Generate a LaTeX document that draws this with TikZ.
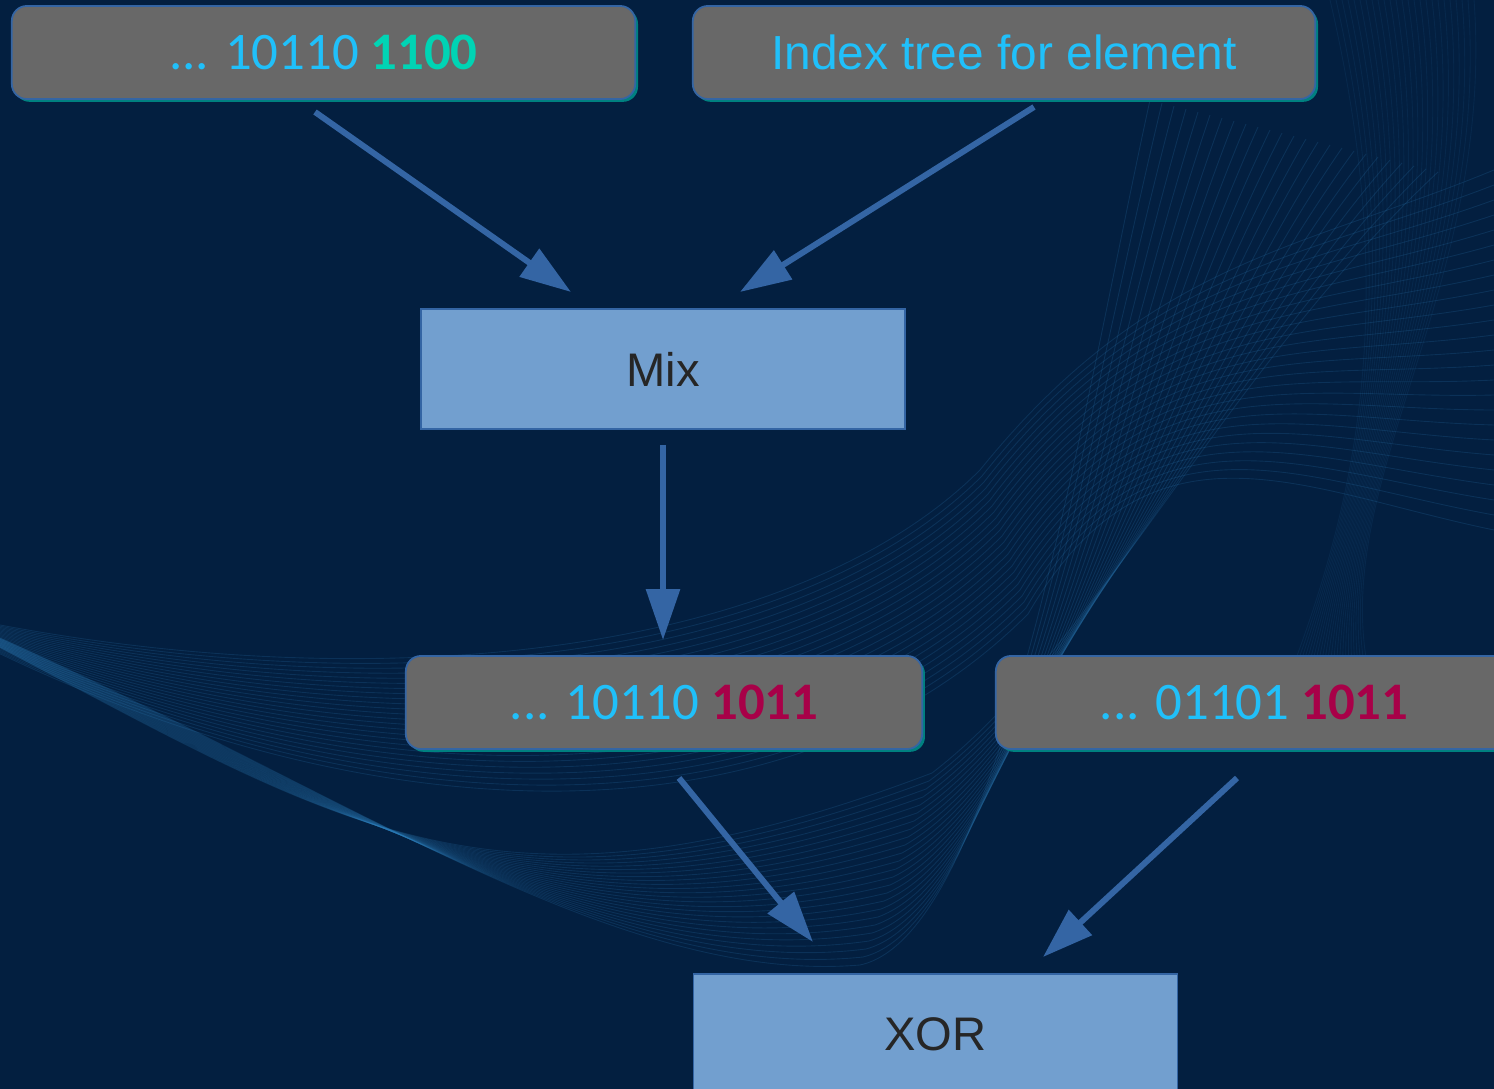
\documentclass[tikz,border=0pt]{standalone}
\usepackage{fontspec}
\setmainfont{Liberation Sans}
\newfontfamily\bitsfont{Carlito}
\usetikzlibrary{arrows.meta,positioning,shadows}

\definecolor{navy}{RGB}{3,31,64}
\definecolor{slate}{RGB}{104,104,104}
\definecolor{skyblue}{RGB}{32,192,250}
\definecolor{mint}{RGB}{0,212,180}
\definecolor{berry}{RGB}{168,0,72}
\definecolor{arrowblue}{RGB}{52,101,164}
\definecolor{opblue}{RGB}{114,159,207}
\definecolor{rimteal}{RGB}{0,128,128}
\definecolor{wave}{RGB}{45,125,185}

\tikzset{
  bits/.style={rounded corners=0.15cm, fill=slate, draw=arrowblue, line width=0.5pt,
    minimum height=0.93cm, text=skyblue, font=\bitsfont\fontsize{15}{18}\selectfont,
    drop shadow={shadow xshift=0.8pt, shadow yshift=-0.8pt, fill=rimteal, opacity=1}},
  op/.style={fill=opblue, draw=arrowblue, line width=0.4pt, minimum width=4.84cm,
    minimum height=1.2cm, text=black!85, font=\fontsize{13.4}{16}\selectfont},
  flow/.style={draw=arrowblue, line width=1.7pt, -{Triangle[length=14.5pt,width=9.4pt]}},
  strand/.style={draw=wave, line width=0.25pt, opacity=0.2},
}

\begin{document}
\begin{tikzpicture}[x=0.01cm, y=-0.01cm]
  \clip (0,0) rectangle (1494,1089);
  \fill[navy] (0,0) rectangle (1494,1089);

  % background strands
  \foreach \i in {0,...,24} {
    \draw[strand] (0,{638+\i*0.4}) .. controls (350,{795+\i*1.5}) and ({620-\i*5},{985-\i*2})
      .. ({860+\i*3},{965-\i*8}) .. controls ({1000+\i*4},{935-\i*12}) and ({1080+\i*6},{420-\i*2})
      .. ({1150+\i*12},{100+\i*3});
    \draw[strand] (0,{625+\i*1.2}) .. controls (400,{700+\i*6}) and (800,{650+\i*8})
      .. ({980+\i*2},{470+\i*6}) .. controls (1150,{260+\i*6}) and (1300,{250+\i*10})
      .. (1494,{170+\i*15});
    \draw[strand, opacity=0.1] ({1330+\i*6},0) .. controls ({1400+\i*4},300) and ({1360-\i*2},500)
      .. ({1280+\i*4},700);
  }

  % boxes
  \node[bits, minimum width=6.23cm] (bitsA) at (323.5,52.5) {... 10110 \textcolor{mint}{\bfseries 1100}};
  \node[bits, minimum width=6.22cm, font=\fontsize{13.6}{16}\selectfont] (tree) at (1004,52.5) {Index tree for element};
  \node[op] (mix) at (663,369) {Mix};
  \node[bits, minimum width=5.16cm] (bitsC) at (664,702.5) {... 10110 \textcolor{berry}{\bfseries 1011}};
  \node[bits, minimum width=5.16cm] (bitsD) at (1254,702.5) {... 01101 \textcolor{berry}{\bfseries 1011}};
  \node[op] (xor) at (935.5,1034) {XOR};

  % connectors
  \coordinate (a1s) at (315,112);  \coordinate (a1e) at (571,292);
  \coordinate (a2s) at (1034,107); \coordinate (a2e) at (740,292);
  \coordinate (a3s) at (663,445);  \coordinate (a3e) at (663,640);
  \coordinate (a4s) at (679,778);  \coordinate (a4e) at (813,942);
  \coordinate (a5s) at (1237,778); \coordinate (a5e) at (1043,957);
  \foreach \k in {1,...,5}
    \draw[flow] (a\k s) -- (a\k e);
\end{tikzpicture}
\end{document}
